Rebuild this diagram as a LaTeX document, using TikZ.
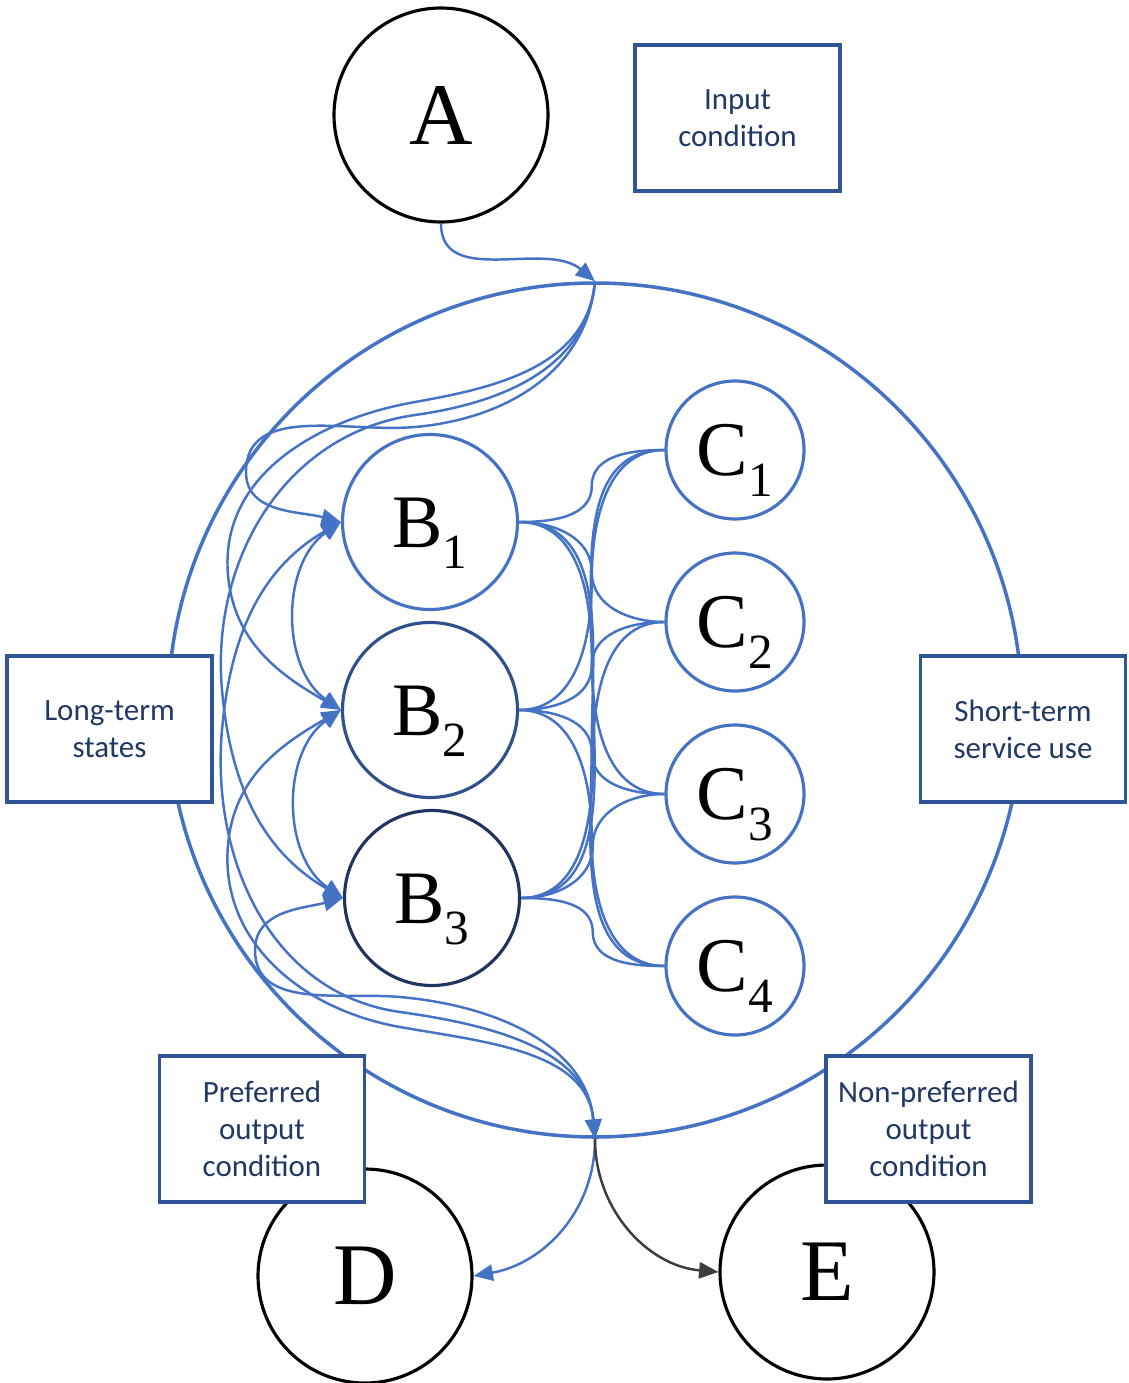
\documentclass[tikz,border=0pt]{standalone}
\usepackage{fontspec}
\setmainfont{Liberation Serif}
\newfontfamily\boxfont{Carlito}
\usepackage{tikz}
\usetikzlibrary{arrows.meta,calc}

\definecolor{lineblue}{RGB}{68,114,196}
\definecolor{boxblue}{RGB}{47,85,151}
\definecolor{textnavy}{RGB}{31,56,100}
\definecolor{midnavy}{RGB}{47,80,140}
\definecolor{deepnavy}{RGB}{32,52,96}
\definecolor{arrowgray}{RGB}{60,60,60}

\newcommand{\statelabel}[2]{#1\raisebox{-6pt}{\fontsize{14}{14}\selectfont #2}}

\begin{document}
\begin{tikzpicture}[
    >={Triangle[length=5.5pt,width=4.6pt]},
    flow/.style={lineblue, line width=0.7pt},
    bigstate/.style={circle, draw=black, line width=0.9pt, fill=white, minimum size=2.14cm, inner sep=0pt, font=\fontsize{25}{25}\selectfont},
    substate/.style={circle, draw=lineblue, line width=0.9pt, fill=white, minimum size=1.75cm, inner sep=0pt, text height=0.5cm, text depth=0pt, font=\fontsize{21.5}{22}\selectfont},
    textbox/.style={draw=boxblue, line width=1pt, fill=white, minimum width=2.05cm, minimum height=1.46cm, inner sep=1pt, align=center, text=textnavy, font=\boxfont\fontsize{8.8}{10.5}\selectfont}
]
\useasboundingbox (0,0) rectangle (11.29,-13.83);

% outer ring
\node[circle, draw=lineblue, line width=1pt, minimum size=8.54cm, inner sep=0pt] (ring) at (5.95,-7.10) {};
\coordinate (entry) at (ring.north);
\coordinate (exit) at (ring.south);

\node[bigstate] (a) at (4.41,-1.15) {A};
\node[bigstate] (d) at (3.65,-12.76) {D};
\node[bigstate] (e) at (8.27,-12.72) {E};

\node[substate] (b1) at (4.30,-5.22) {\statelabel{B}{1}};
\node[substate, draw=midnavy] (b2) at (4.30,-7.10) {\statelabel{B}{2}};
\node[substate, draw=deepnavy] (b3) at (4.32,-8.98) {\statelabel{B}{3}};

\node[substate, minimum size=1.38cm, font=\fontsize{22}{22}\selectfont] (c1) at (7.35,-4.50) {\statelabel{C}{1}};
\node[substate, minimum size=1.38cm, font=\fontsize{22}{22}\selectfont] (c2) at (7.35,-6.22) {\statelabel{C}{2}};
\node[substate, minimum size=1.38cm, font=\fontsize{22}{22}\selectfont] (c3) at (7.35,-7.94) {\statelabel{C}{3}};
\node[substate, minimum size=1.38cm, font=\fontsize{22}{22}\selectfont] (c4) at (7.35,-9.66) {\statelabel{C}{4}};

\draw[flow,->] (a.south) to[out=-90,in=140] (entry);

% entry fan
\draw[flow,->] (entry) to[out=-95,in=5] (4.15,-4.27) to[out=185,in=90] (2.46,-4.72) to[out=-90,in=165] (b1.west);
\draw[flow,->] (entry) to[out=-95,in=10] (4.15,-4.02) to[out=190,in=95] (2.28,-5.75) to[out=-85,in=150] (b2.west);
\draw[flow,->] (entry) to[out=-95,in=8] (4.15,-4.15) to[out=188,in=95] (2.22,-6.9) to[out=-85,in=150] (b3.west);

% exit fan
\draw[flow,<->] (exit) to[out=95,in=-5] (4.0,-9.97) to[out=175,in=-90] (2.55,-9.5) to[out=90,in=-165] (b3.west);
\draw[flow,<->] (exit) to[out=95,in=-8] (4.0,-10.12) to[out=172,in=-95] (2.22,-7.3) to[out=85,in=-150] (b1.west);
\draw[flow,<->] (exit) to[out=95,in=-10] (4.0,-10.27) to[out=170,in=-95] (2.28,-8.45) to[out=85,in=-150] (b2.west);

\draw[flow,<->] (b1.west) to[bend right=55] (b2.west);
\draw[flow,<->] (b2.west) to[bend right=55] (b3.west);

% long-term to short-term
\foreach \b/\c in {1/1,2/1,2/2,3/1,3/2,3/3}
  \draw[flow] (b\b.east) to[out=0,in=-90] ($(b\b.east)!0.5!(c\c.west)$) to[out=90,in=180] (c\c.west);
\foreach \b/\c in {1/2,1/3,1/4,2/3,2/4,3/4}
  \draw[flow] (b\b.east) to[out=0,in=90] ($(b\b.east)!0.5!(c\c.west)$) to[out=-90,in=180] (c\c.west);

\draw[flow,->] (exit) to[out=-90,in=10] (d.east);
\draw[arrowgray, line width=0.7pt, ->] (exit) to[out=-90,in=175] (e.west);

\node[textbox] (input) at (7.375,-1.18) {Input\\condition};
\node[textbox] (longterm) at (1.095,-7.29) {Long-term\\states};
\node[textbox] (shortterm) at (10.23,-7.29) {Short-term\\service use};
\node[textbox] (preferred) at (2.62,-11.29) {Preferred\\output\\condition};
\node[textbox] (nonpreferred) at (9.285,-11.29) {Non-preferred\\output\\condition};
\end{tikzpicture}
\end{document}
